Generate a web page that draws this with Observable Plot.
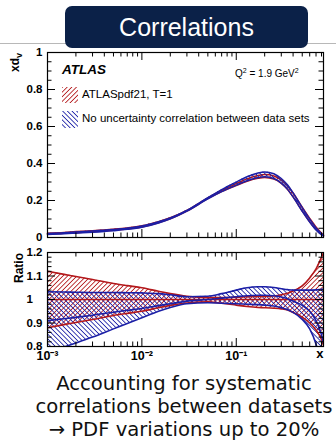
<!DOCTYPE html>
<html><head><meta charset="utf-8">
<script src="https://cdn.jsdelivr.net/npm/d3@7"></script>
<script src="https://cdn.jsdelivr.net/npm/@observablehq/plot@0.6"></script>
<style>
html,body{margin:0;padding:0;background:#fff;}
body{width:336px;height:445px;overflow:hidden;position:relative;font-family:"Liberation Sans",Arial,Helvetica,sans-serif;}
#rule{position:absolute;left:0;top:43px;width:336px;height:1px;background:#b8b8b8;}
#title{position:absolute;left:65px;top:6px;width:243px;height:42px;background:#0b2148;border-radius:7px;color:#fff;font-size:25px;text-align:center;line-height:42px;}
.panel{position:absolute;left:0;}
.ytitle{position:absolute;font-weight:bold;font-size:12px;transform-origin:0 0;transform:rotate(-90deg);white-space:nowrap;color:#000;}
.leg{position:absolute;font-size:11.5px;color:#000;white-space:nowrap;}
.sw{position:absolute;}
#atlas{position:absolute;left:62px;top:62px;font-weight:bold;font-style:italic;font-size:13.5px;}
#q2{position:absolute;left:235px;top:67px;font-size:10px;white-space:nowrap;}
#notes{position:absolute;left:0;top:372px;width:368px;text-align:center;font-family:"DejaVu Sans",sans-serif;font-size:19.6px;line-height:23px;color:#111;white-space:nowrap;}
</style>
</head><body>
<svg width="0" height="0" style="position:absolute">
  <defs>
    <pattern id="hr" patternUnits="userSpaceOnUse" width="3.3" height="3.3" patternTransform="rotate(45)">
      <line x1="0" y1="0" x2="0" y2="3.3" stroke="#b3181b" stroke-width="1.7"/>
    </pattern>
    <pattern id="hb" patternUnits="userSpaceOnUse" width="3.3" height="3.3" patternTransform="rotate(-45)">
      <line x1="0" y1="0" x2="0" y2="3.3" stroke="#1b1fa6" stroke-width="1.7"/>
    </pattern>
  </defs>
</svg>
<div id="rule"></div>
<div id="title">Correlations</div>
<div id="top" class="panel" style="top:40px"></div>
<div id="ratio" class="panel" style="top:245px"></div>
<div class="ytitle" style="left:8px;top:72px;">xd<sub style="font-size:9px">v</sub></div>
<div class="ytitle" style="left:12px;top:283px;">Ratio</div>
<div id="atlas">ATLAS</div>
<div id="q2">Q<sup style="font-size:7px">2</sup> = 1.9 GeV<sup style="font-size:7px">2</sup></div>
<svg class="sw" style="left:62px;top:87px" width="16" height="16"><rect width="16" height="16" fill="url(#hr)"/></svg>
<div class="leg" style="left:82px;top:88px">ATLASpdf21, T=1</div>
<svg class="sw" style="left:62px;top:111px" width="16" height="17"><rect width="16" height="17" fill="url(#hb)"/></svg>
<div class="leg" style="left:82px;top:112px">No uncertainty correlation between data sets</div>
<div id="notes">Accounting for systematic<br>correlations between datasets<br>→ PDF variations up to 20%</div>
<script>
// ---- data ----
const xGrid = [0.001, 0.0015, 0.002, 0.003, 0.005, 0.007, 0.01, 0.015, 0.02, 0.03, 0.05, 0.07, 0.1, 0.13, 0.17, 0.2, 0.25, 0.3, 0.35, 0.4, 0.5, 0.6, 0.7, 0.8, 0.84];
const xdvCentral = [0.021, 0.025, 0.029, 0.034, 0.042, 0.049, 0.060, 0.083, 0.104, 0.145, 0.212, 0.252, 0.288, 0.313, 0.331, 0.336, 0.328, 0.305, 0.272, 0.232, 0.155, 0.095, 0.050, 0.020, 0.011];
const redLow  = [0.880, 0.893, 0.902, 0.915, 0.932, 0.941, 0.950, 0.965, 0.975, 0.985, 0.990, 0.984, 0.976, 0.970, 0.966, 0.965, 0.963, 0.960, 0.955, 0.945, 0.925, 0.900, 0.870, 0.830, 0.805];
const redHigh = [1.120, 1.107, 1.098, 1.085, 1.068, 1.059, 1.050, 1.035, 1.025, 1.014, 1.008, 1.008, 1.010, 1.012, 1.013, 1.013, 1.015, 1.020, 1.027, 1.036, 1.058, 1.092, 1.130, 1.180, 1.200];
const blueCentral = [0.910, 0.918, 0.924, 0.933, 0.946, 0.954, 0.962, 0.974, 0.982, 0.993, 1.000, 1.006, 1.012, 1.016, 1.018, 1.018, 1.016, 1.011, 1.003, 0.993, 0.975, 0.950, 0.910, 0.850, 0.815];
const blueLow  = [0.775, 0.798, 0.815, 0.840, 0.875, 0.898, 0.922, 0.950, 0.966, 0.982, 0.986, 0.984, 0.982, 0.980, 0.978, 0.976, 0.972, 0.965, 0.956, 0.945, 0.915, 0.875, 0.810, 0.720, 0.680];
const blueHigh = [1.033, 1.032, 1.031, 1.030, 1.030, 1.029, 1.028, 1.025, 1.020, 1.012, 1.014, 1.025, 1.040, 1.050, 1.054, 1.054, 1.051, 1.046, 1.042, 1.040, 1.040, 1.040, 1.041, 1.043, 1.045];

const xMajorTicks = [0.001, 0.01, 0.1];
const xTickLabels = ["10\u207B\u00B3", "10\u207B\u00B2", "10\u207B\u00B9"];
const yTopTicks = [0, 0.2, 0.4, 0.6, 0.8, 1];
const yTopLabels = ["0", "0.2", "0.4", "0.6", "0.8", "1"];
const yRatioTicks = [0.8, 0.9, 1, 1.1, 1.2];
const yRatioLabels = ["0.8", "0.9", "1\u2007\u2008", "1.1", "1.2"];

const RED = "#b3181b", BLUE = "#1b1fa6";
const xDomain = [0.001, 0.84];
const curve = "monotone-x";
const W = 336, ML = 47, MR = 13;
const innerW = W - ML - MR;

const xMinorTicks = [];
for (const d of xMajorTicks) for (let k = 2; k <= 9; k++) if (d * k <= xDomain[1]) xMinorTicks.push(d * k);
const yTopMinor = d3.range(0, 1.0001, 0.05).filter(v => Math.abs(v * 5 - Math.round(v * 5)) > 1e-6);
const yRatioMinor = d3.range(0.8, 1.2001, 0.02).filter(v => Math.abs(v * 10 - Math.round(v * 10)) > 1e-6);

const rows = xGrid.map((x, i) => ({
  x,
  rl: xdvCentral[i] * redLow[i], rh: xdvCentral[i] * redHigh[i],
  bl: xdvCentral[i] * blueLow[i], bh: xdvCentral[i] * blueHigh[i],
  rLow: redLow[i], rHigh: redHigh[i], bC: blueCentral[i], bLow: blueLow[i], bHigh: blueHigh[i]
}));

const style = {fontFamily: "'Liberation Sans', Arial, Helvetica, sans-serif", fontSize: "11.5px", fontWeight: "bold", overflow: "visible", background: "transparent"};

// inward ROOT-style ticks on all four sides (tick lengths in pixels converted through the scales' domains)
function frameTicks(innerH, yDomain, yMajor, yMinor) {
  const MJ = 8, MN = 4.5;
  const st = {stroke: "#000", strokeWidth: 1};
  const [y0, y1] = yDomain, [x0, x1] = xDomain;
  const yAt = (px, fromTop) => fromTop ? y1 - (y1 - y0) * px / innerH : y0 + (y1 - y0) * px / innerH;
  const xAt = (px, fromRight) => fromRight ? x1 / Math.pow(x1 / x0, px / innerW) : x0 * Math.pow(x1 / x0, px / innerW);
  const hx = (ticks, len) => [
    Plot.ruleX(ticks, {x: d => d, y1: y0, y2: yAt(len, false), ...st}),
    Plot.ruleX(ticks, {x: d => d, y1: y1, y2: yAt(len, true), ...st})
  ];
  const hy = (ticks, len) => [
    Plot.ruleY(ticks, {y: d => d, x1: x0, x2: xAt(len, false), ...st}),
    Plot.ruleY(ticks, {y: d => d, x1: x1, x2: xAt(len, true), ...st})
  ];
  return [...hx(xMajorTicks, MJ), ...hx(xMinorTicks, MN), ...hy(yMajor, MJ), ...hy(yMinor, MN),
    Plot.frame({stroke: "#000", strokeWidth: 1.2})];
}

const topH = 205, topMT = 12, topMB = 8;
const topPlot = Plot.plot({
  width: W, height: topH, marginLeft: ML, marginRight: MR, marginTop: topMT, marginBottom: topMB,
  style,
  x: {type: "log", domain: xDomain},
  y: {domain: [0, 1]},
  marks: [
    Plot.areaY(rows, {x: "x", y1: "rl", y2: "rh", fill: "url(#hr)", curve}),
    Plot.lineY(rows, {x: "x", y: "rl", stroke: RED, strokeWidth: 1.5, curve}),
    Plot.lineY(rows, {x: "x", y: "rh", stroke: RED, strokeWidth: 1.5, curve}),
    Plot.areaY(rows, {x: "x", y1: "bl", y2: "bh", fill: "url(#hb)", curve}),
    Plot.lineY(rows, {x: "x", y: "bl", stroke: BLUE, strokeWidth: 1.5, curve}),
    Plot.lineY(rows, {x: "x", y: "bh", stroke: BLUE, strokeWidth: 1.5, curve}),
    Plot.axisX({ticks: [], label: null, tickSize: 0}),
    Plot.axisY({anchor: "left", ticks: yTopTicks, tickSize: 0, tickPadding: 5, label: null,
      tickFormat: d => yTopLabels[yTopTicks.findIndex(t => Math.abs(t - d) < 1e-9)]}),
    ...frameTicks(topH - topMT - topMB, [0, 1], yTopTicks, yTopMinor)
  ]
});
document.getElementById("top").appendChild(topPlot);

const rH = 120, rMT = 7, rMB = 19;
const ratioPlot = Plot.plot({
  width: W, height: rH, marginLeft: ML, marginRight: MR, marginTop: rMT, marginBottom: rMB,
  style,
  x: {type: "log", domain: xDomain},
  y: {domain: [0.8, 1.2]},
  marks: [
    Plot.areaY(rows, {x: "x", y1: "rLow", y2: "rHigh", fill: "url(#hr)", curve, clip: true}),
    Plot.areaY(rows, {x: "x", y1: "bLow", y2: "bHigh", fill: "url(#hb)", curve, clip: true}),
    Plot.lineY(rows, {x: "x", y: "rLow", stroke: RED, strokeWidth: 1.6, curve, clip: true}),
    Plot.lineY(rows, {x: "x", y: "rHigh", stroke: RED, strokeWidth: 1.6, curve, clip: true}),
    Plot.ruleY([1], {stroke: RED, strokeWidth: 1.4}),
    Plot.lineY(rows, {x: "x", y: "bLow", stroke: BLUE, strokeWidth: 1.6, curve, clip: true}),
    Plot.lineY(rows, {x: "x", y: "bHigh", stroke: BLUE, strokeWidth: 1.6, curve, clip: true}),
    Plot.lineY(rows, {x: "x", y: "bC", stroke: BLUE, strokeWidth: 1.6, curve, clip: true}),
    Plot.axisX({anchor: "bottom", ticks: xMajorTicks, tickSize: 0, tickPadding: 5, label: null, fontSize: 12.5,
      tickFormat: d => xTickLabels[xMajorTicks.findIndex(t => Math.abs(t - d) / t < 1e-6)]}),
    Plot.axisY({anchor: "left", ticks: yRatioTicks, tickSize: 0, tickPadding: 5, label: null,
      tickFormat: d => yRatioLabels[yRatioTicks.findIndex(t => Math.abs(t - d) < 1e-9)]}),
    ...frameTicks(rH - rMT - rMB, [0.8, 1.2], yRatioTicks, yRatioMinor),
    Plot.text(["x"], {frameAnchor: "bottom-right", dy: 7, lineAnchor: "middle", fontSize: 13, fontWeight: "bold"})
  ]
});
document.getElementById("ratio").appendChild(ratioPlot);
</script>
</body></html>
